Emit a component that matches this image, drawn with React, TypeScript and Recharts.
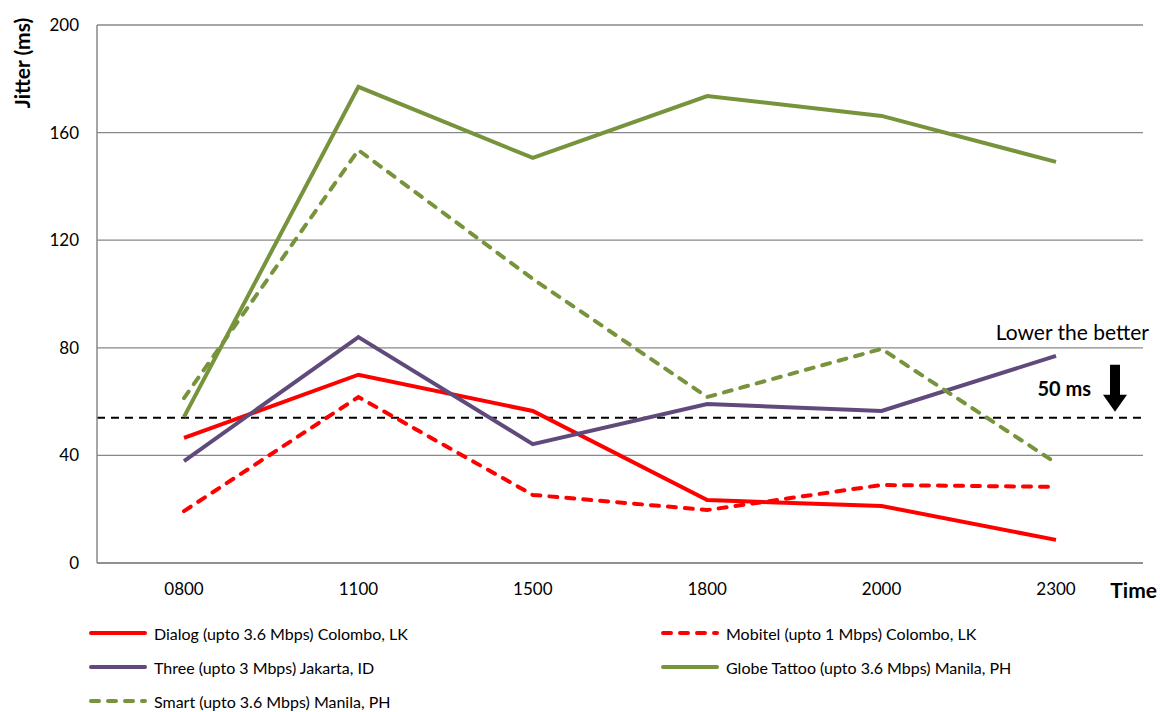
import React from "react";
import { LineChart, Line, XAxis, YAxis, CartesianGrid, ReferenceLine, Label } from "recharts";

const times = ["0800", "1100", "1500", "1800", "2000", "2300"];
const dialog = [46.5, 70, 56.5, 23.4, 21.2, 8.6];
const mobitel = [19.3, 61.7, 25.3, 19.7, 29, 28.3];
const three = [37.9, 84, 44.2, 59.1, 56.5, 77];
const globe = [54.3, 177, 150.6, 173.6, 166.2, 149.1];
const smart = [61.3, 153.5, 105.6, 61.7, 79.6, 37.2];
const yTicks = [0, 40, 80, 120, 160, 200];
const threshold = 54;

const FONT = "Lato, 'Open Sans', sans-serif";
const RED = "#FF0000";
const PURPLE = "#604A7B";
const GREEN = "#77933C";
const GRID = "#888888";

const data = times.map((t, i) => ({
  time: t,
  dialog: dialog[i],
  mobitel: mobitel[i],
  three: three[i],
  globe: globe[i],
  smart: smart[i],
}));

const series = [
  { key: "dialog", name: "Dialog (upto 3.6 Mbps) Colombo, LK", color: RED, dash: false },
  { key: "mobitel", name: "Mobitel (upto 1 Mbps) Colombo, LK", color: RED, dash: true },
  { key: "three", name: "Three (upto 3 Mbps) Jakarta, ID", color: PURPLE, dash: false },
  { key: "globe", name: "Globe Tattoo (upto 3.6 Mbps) Manila, PH", color: GREEN, dash: false },
  { key: "smart", name: "Smart (upto 3.6 Mbps) Manila, PH", color: GREEN, dash: true },
];

function LegendBox() {
  return (
    <div
      style={{
        position: "absolute",
        left: 88,
        top: 622,
        display: "grid",
        gridTemplateColumns: "572px 500px",
        rowGap: 12,
        fontFamily: FONT,
        fontSize: 16,
        color: "#000",
      }}
    >
      {series.map((s) => (
        <div key={s.key} style={{ display: "flex", alignItems: "center", height: 22 }}>
          <svg width={60} height={8} style={{ marginRight: 6 }}>
            <line
              x1={3}
              y1={4}
              x2={57}
              y2={4}
              stroke={s.color}
              strokeWidth={4}
              strokeLinecap="round"
              strokeDasharray={s.dash ? "8 9" : undefined}
            />
          </svg>
          <span>{s.name}</span>
        </div>
      ))}
    </div>
  );
}

function Annotation({ viewBox }: any) {
  const y = viewBox.y;
  const xr = viewBox.x + viewBox.width;
  return (
    <g fontFamily={FONT}>
      <text x={xr + 6} y={y - 78} textAnchor="end" fontSize={21} fill="#000">
        Lower the better
      </text>
      <text x={xr - 52} y={y - 22} textAnchor="end" fontSize={20} fontWeight="bold" fill="#000">
        50 ms
      </text>
      <path d={`M ${xr - 33} ${y - 53} h 10 v 30 h 7 l -12 17 l -12 -17 h 7 z`} fill="#000" />
    </g>
  );
}

export default function App() {
  return (
    <div style={{ position: "absolute", left: 0, top: 0, width: 1160, height: 712, background: "#fff" }}>
      <LineChart width={1160} height={712} data={data} margin={{ top: 25, right: 17, left: 0, bottom: 109 }}>
        <CartesianGrid vertical={false} stroke={GRID} strokeWidth={1.3} />
        <XAxis
          dataKey="time"
          padding={{ left: 87, right: 87 }}
          axisLine={{ stroke: GRID, strokeWidth: 1.5 }}
          tickLine={false}
          tick={{ fill: "#000", fontSize: 17, fontFamily: FONT }}
          tickMargin={14}
          height={40}
        >
          <Label
            content={({ viewBox }: any) => (
              <text
                x={viewBox.x + viewBox.width + 14}
                y={viewBox.y + 35}
                textAnchor="end"
                fontFamily={FONT}
                fontSize={21}
                fontWeight="bold"
                fill="#000"
              >
                Time
              </text>
            )}
          />
        </XAxis>
        <YAxis
          domain={[0, 200]}
          ticks={yTicks}
          width={97}
          axisLine={{ stroke: GRID, strokeWidth: 1.5 }}
          tickLine={false}
          tickMargin={12}
          tick={{ fill: "#000", fontSize: 17, fontFamily: FONT }}
        >
          <Label
            content={() => (
              <text
                x={30}
                y={63}
                transform="rotate(-90 30 63)"
                textAnchor="middle"
                fontFamily={FONT}
                fontSize={21}
                fontWeight="bold"
                fill="#000"
              >
                Jitter (ms)
              </text>
            )}
          />
        </YAxis>
        <ReferenceLine y={threshold} stroke="#000" strokeWidth={2} strokeDasharray="8 6" label={<Annotation />} />
        {series.map((s) => (
          <Line
            key={s.key}
            type="linear"
            dataKey={s.key}
            name={s.name}
            stroke={s.color}
            strokeWidth={4}
            strokeDasharray={s.dash ? "8 9" : undefined}
            strokeLinecap={s.dash ? "round" : "butt"}
            dot={false}
            activeDot={false}
            isAnimationActive={false}
          />
        ))}
      </LineChart>
      <LegendBox />
    </div>
  );
}
